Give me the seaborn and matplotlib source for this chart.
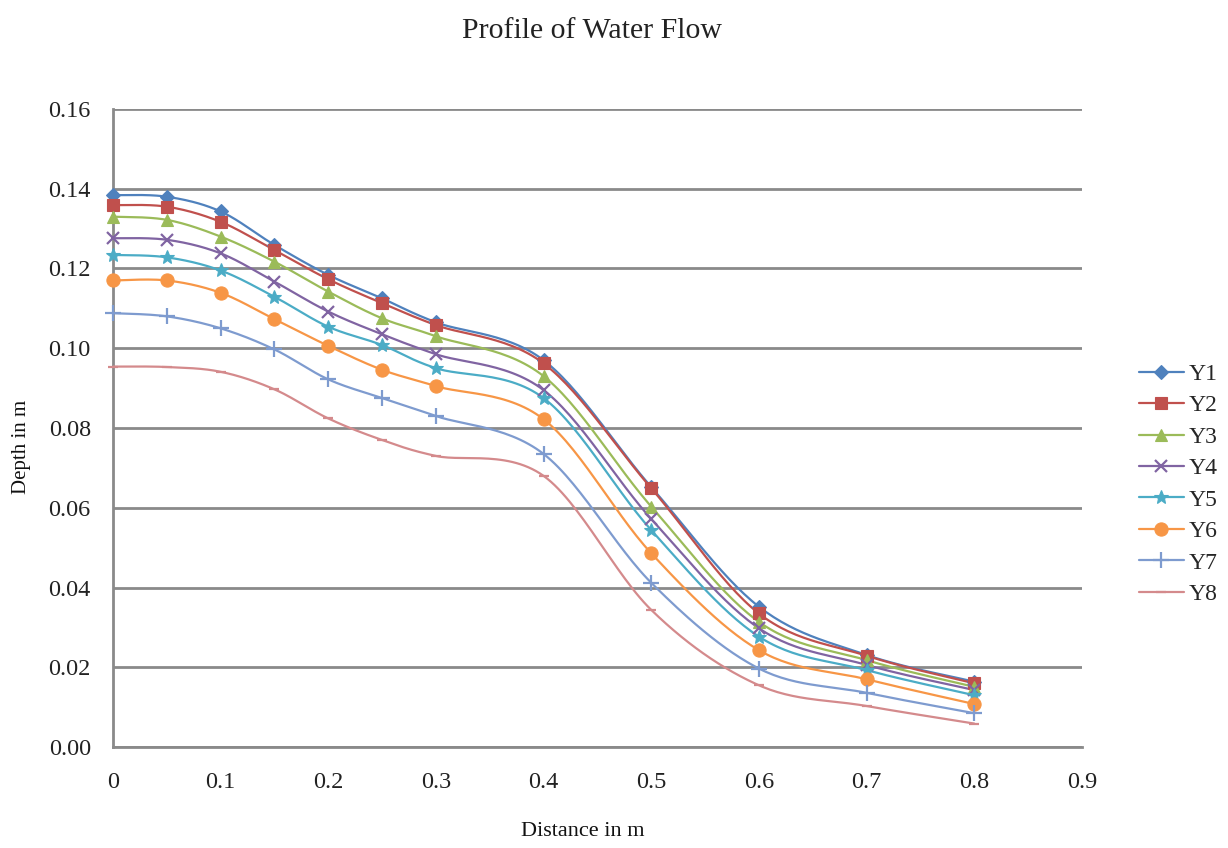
import numpy as np
import pandas as pd
import matplotlib
matplotlib.use("Agg")
import matplotlib.pyplot as plt
import seaborn as sns
from matplotlib.lines import Line2D

# ---------------- data ----------------
distance = [0.0, 0.05, 0.1, 0.15, 0.2, 0.25, 0.3, 0.4, 0.5, 0.6, 0.7, 0.8]
Y1 = [0.1384, 0.1380, 0.1343, 0.1259, 0.1184, 0.1125, 0.1065, 0.0970, 0.0652, 0.0352, 0.0231, 0.0164]
Y2 = [0.1359, 0.1355, 0.1317, 0.1246, 0.1173, 0.1113, 0.1058, 0.0962, 0.0649, 0.0335, 0.0229, 0.0160]
Y3 = [0.1330, 0.1322, 0.1280, 0.1217, 0.1142, 0.1075, 0.1030, 0.0930, 0.0603, 0.0314, 0.0218, 0.0151]
Y4 = [0.1276, 0.1272, 0.1238, 0.1167, 0.1092, 0.1035, 0.0985, 0.0895, 0.0572, 0.0298, 0.0206, 0.0143]
Y5 = [0.1234, 0.1228, 0.1195, 0.1129, 0.1054, 0.1008, 0.0950, 0.0875, 0.0544, 0.0277, 0.0193, 0.0130]
Y6 = [0.1170, 0.1170, 0.1139, 0.1073, 0.1006, 0.0946, 0.0905, 0.0822, 0.0486, 0.0243, 0.0170, 0.0108]
Y7 = [0.1088, 0.1080, 0.1050, 0.0997, 0.0922, 0.0875, 0.0830, 0.0735, 0.0412, 0.0197, 0.0136, 0.0085]
Y8 = [0.0954, 0.0953, 0.0941, 0.0897, 0.0824, 0.0770, 0.0730, 0.0680, 0.0344, 0.0155, 0.0103, 0.0059]
series_names = ["Y1", "Y2", "Y3", "Y4", "Y5", "Y6", "Y7", "Y8"]
series_values = [Y1, Y2, Y3, Y4, Y5, Y6, Y7, Y8]
x_ticks = [0, 0.1, 0.2, 0.3, 0.4, 0.5, 0.6, 0.7, 0.8, 0.9]
x_tick_labels = ["0", "0.1", "0.2", "0.3", "0.4", "0.5", "0.6", "0.7", "0.8", "0.9"]
y_ticks = [0.0, 0.02, 0.04, 0.06, 0.08, 0.10, 0.12, 0.14, 0.16]

# ---------------- style ----------------
colors = ["#4F81BD", "#C0504D", "#9BBB59", "#8064A2", "#4BACC6", "#F79646", "#7E9BCF", "#D48A8C"]
markers = ["D", "s", "^", "x", "*", "o", "+", "_"]
msizes = [7.5, 8.5, 8.5, 8.5, 10, 9.5, 11, 7]

sns.set_theme(style="white")
plt.rcParams["font.family"] = ["Liberation Serif", "DejaVu Serif"]


def excel_smooth(xs, ys, n=30):
    """Excel-style smoothed line: cubic Bezier with Catmull-Rom control points."""
    P = np.column_stack([xs, ys]).astype(float)
    P_ext = np.vstack([P[0], P, P[-1]])
    out = []
    t = np.linspace(0, 1, n)[:, None]
    for i in range(len(P) - 1):
        p0, p1, p2, p3 = P_ext[i], P_ext[i + 1], P_ext[i + 2], P_ext[i + 3]
        c1 = p1 + (p2 - p0) / 6.0
        c2 = p2 - (p3 - p1) / 6.0
        seg = ((1 - t) ** 3) * p1 + 3 * ((1 - t) ** 2) * t * c1 + 3 * (1 - t) * t ** 2 * c2 + t ** 3 * p2
        out.append(seg if i == 0 else seg[1:])
    arr = np.vstack(out)
    return arr[:, 0], arr[:, 1]


fig = plt.figure(figsize=(12.28, 8.48), dpi=100)
ax = fig.add_axes([0.092, 0.119, 0.789, 0.7525])

handles = []
for name, vals, c, m, ms in zip(series_names, series_values, colors, markers, msizes):
    sx, sy = excel_smooth(distance, vals)
    dsm = pd.DataFrame({"x": sx, "y": sy})
    sns.lineplot(data=dsm, x="x", y="y", sort=False, color=c, linewidth=1.6,
                 ax=ax, estimator=None, legend=False)
    dpt = pd.DataFrame({"x": distance, "y": vals})
    mew = 1.6 if m in ("x", "+", "_") else 0.8
    ax.plot(dpt["x"], dpt["y"], linestyle="none", marker=m, markersize=ms,
            color=c, markeredgecolor=c, markeredgewidth=mew, clip_on=False, zorder=3)
    handles.append(Line2D([0], [0], color=c, linewidth=1.6, marker=m, markersize=ms,
                          markeredgecolor=c, markeredgewidth=mew, label=name))

ax.set_xlim(0, 0.9)
ax.set_ylim(0, 0.16)
ax.set_xticks(x_ticks)
ax.set_xticklabels(x_tick_labels)
ax.set_yticks(y_ticks)
ax.set_yticklabels([f"{v:.2f}" for v in y_ticks])
ax.tick_params(axis="both", labelsize=17.5, length=0, colors="#222222")
ax.tick_params(axis="x", pad=18)
ax.tick_params(axis="y", pad=16)
ax.yaxis.grid(True, color="#8A8A8A", linewidth=2)
ax.xaxis.grid(False)
ax.set_axisbelow(True)
for side in ["top", "right"]:
    ax.spines[side].set_visible(False)
for side in ["left", "bottom"]:
    ax.spines[side].set_color("#8A8A8A")
    ax.spines[side].set_linewidth(2)
    ax.spines[side].set_zorder(0.5)

ax.set_xlabel("Distance in m", fontsize=16, color="#111111")
ax.set_ylabel("Depth in m", fontsize=15, color="#111111")
ax.xaxis.set_label_coords(0.485, -0.118)
ax.yaxis.set_label_coords(-0.085, 0.47)
fig.text(0.482, 0.964, "Profile of Water Flow", ha="center", va="center",
         fontsize=21.5, color="#222222")

leg = fig.legend(handles=handles, loc="center left", bbox_to_anchor=(0.91, 0.429),
                 frameon=False, fontsize=17, handlelength=1.9, handletextpad=0.2,
                 labelspacing=0.42)

fig.savefig("out.png", dpi=100, facecolor="white")
